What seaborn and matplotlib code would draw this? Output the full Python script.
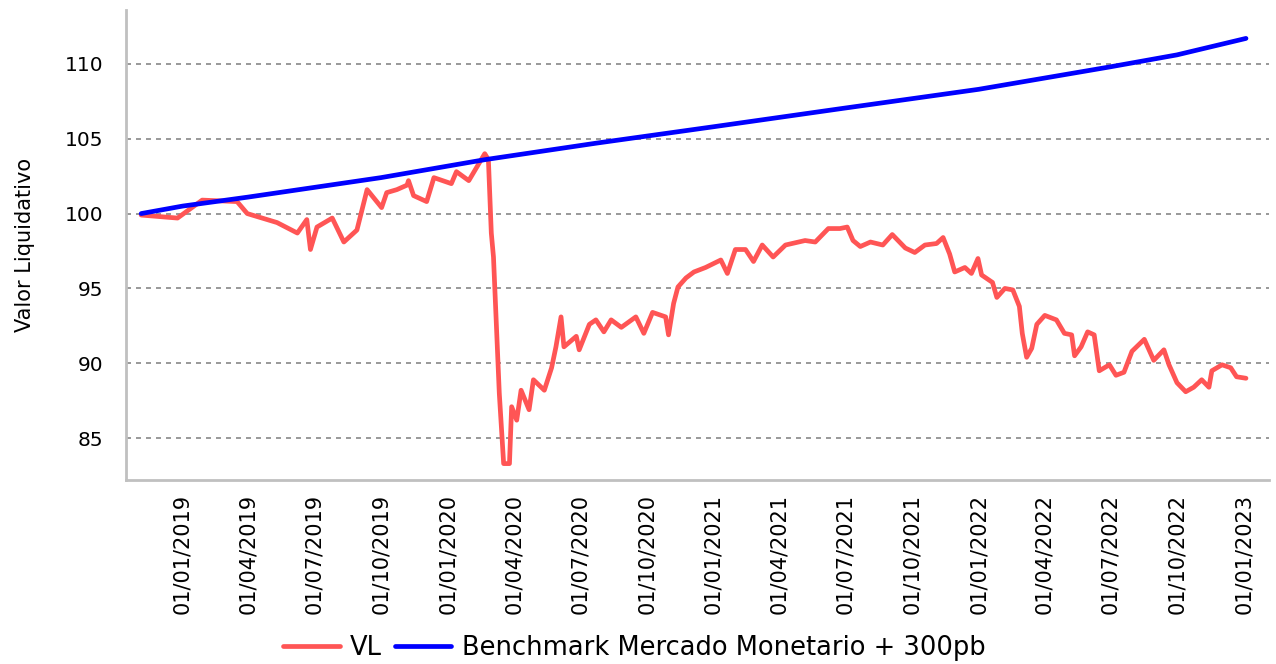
import pandas as pd
import matplotlib.pyplot as plt
import matplotlib.dates as mdates
import seaborn as sns

# VL series
vl_dates = ['2018-11-05', '2018-12-25', '2019-01-28', '2019-03-17', '2019-03-31', '2019-05-11',
            '2019-06-08', '2019-06-21', '2019-06-26', '2019-07-05', '2019-07-26', '2019-08-11',
            '2019-08-29', '2019-09-12', '2019-10-02', '2019-10-09', '2019-10-23', '2019-11-06',
            '2019-11-08', '2019-11-15', '2019-12-03', '2019-12-13', '2020-01-06', '2020-01-13',
            '2020-01-30', '2020-02-10', '2020-02-21', '2020-02-26', '2020-03-01', '2020-03-04',
            '2020-03-12', '2020-03-18', '2020-03-26', '2020-03-29', '2020-04-05', '2020-04-11',
            '2020-04-22', '2020-04-28', '2020-05-13', '2020-05-23', '2020-05-29', '2020-06-05',
            '2020-06-09', '2020-06-26', '2020-06-30', '2020-07-14', '2020-07-23', '2020-08-03',
            '2020-08-13', '2020-08-27', '2020-09-16', '2020-09-27', '2020-10-09', '2020-10-27',
            '2020-10-31', '2020-11-07', '2020-11-13', '2020-11-24', '2020-12-05', '2020-12-21',
            '2021-01-11', '2021-01-20', '2021-01-31', '2021-02-14', '2021-02-25', '2021-03-09',
            '2021-03-24', '2021-04-10', '2021-05-07', '2021-05-21', '2021-06-08', '2021-06-24',
            '2021-07-04', '2021-07-12', '2021-07-22', '2021-08-05', '2021-08-22', '2021-09-04',
            '2021-09-22', '2021-10-05', '2021-10-19', '2021-11-04', '2021-11-13', '2021-11-22',
            '2021-11-29', '2021-12-13', '2021-12-22', '2021-12-31', '2022-01-05', '2022-01-20',
            '2022-01-26', '2022-02-06', '2022-02-17', '2022-02-26', '2022-03-02', '2022-03-08',
            '2022-03-15', '2022-03-22', '2022-04-02', '2022-04-18', '2022-04-29', '2022-05-09',
            '2022-05-13', '2022-05-22', '2022-05-31', '2022-06-09', '2022-06-16', '2022-06-30',
            '2022-07-09', '2022-07-20', '2022-07-31', '2022-08-17', '2022-08-30', '2022-09-13',
            '2022-09-20', '2022-10-01', '2022-10-13', '2022-10-24', '2022-11-04', '2022-11-14',
            '2022-11-18', '2022-12-02', '2022-12-14', '2022-12-22', '2023-01-04']
vl_values = [99.9, 99.7, 100.9, 100.8, 100.0, 99.4,
             98.7, 99.6, 97.6, 99.1, 99.7, 98.1,
             98.9, 101.6, 100.4, 101.4, 101.6, 101.9,
             102.2, 101.2, 100.8, 102.4, 102.0, 102.8,
             102.2, 103.1, 104.0, 103.6, 98.7, 97.1,
             88.0, 83.3, 83.3, 87.1, 86.2, 88.2,
             86.9, 88.9, 88.2, 89.7, 91.1, 93.1,
             91.1, 91.8, 90.9, 92.6, 92.9, 92.1,
             92.9, 92.4, 93.1, 92.0, 93.4, 93.1,
             91.9, 94.0, 95.1, 95.7, 96.1, 96.4,
             96.9, 96.0, 97.6, 97.6, 96.8, 97.9,
             97.1, 97.9, 98.2, 98.1, 99.0, 99.0,
             99.1, 98.2, 97.8, 98.1, 97.9, 98.6,
             97.7, 97.4, 97.9, 98.0, 98.4, 97.3,
             96.1, 96.4, 96.0, 97.0, 95.9, 95.4,
             94.4, 95.0, 94.9, 93.8, 92.0, 90.4,
             91.0, 92.6, 93.2, 92.9, 92.0, 91.9,
             90.5, 91.1, 92.1, 91.9, 89.5, 89.9,
             89.2, 89.4, 90.8, 91.6, 90.2, 90.9,
             89.9, 88.7, 88.1, 88.4, 88.9, 88.4,
             89.5, 89.9, 89.7, 89.1, 89.0]

# benchmark series
bm_dates = ['2018-11-05', '2019-01-01', '2019-04-01', '2019-10-01', '2020-02-21', '2020-07-23',
            '2021-01-01', '2021-06-24', '2022-01-01', '2022-07-01', '2022-10-01', '2023-01-04']
bm_values = [100.0, 100.5, 101.1, 102.4, 103.6, 104.7,
             105.8, 107.0, 108.3, 109.8, 110.6, 111.7]

y_ticks = [85, 90, 95, 100, 105, 110]
x_ticks = ['2019-01-01', '2019-04-01', '2019-07-01', '2019-10-01', '2020-01-01', '2020-04-01',
           '2020-07-01', '2020-10-01', '2021-01-01', '2021-04-01', '2021-07-01', '2021-10-01',
           '2022-01-01', '2022-04-01', '2022-07-01', '2022-10-01', '2023-01-01']

vl = pd.DataFrame({'date': pd.to_datetime(vl_dates), 'value': vl_values})
bm = pd.DataFrame({'date': pd.to_datetime(bm_dates), 'value': bm_values})

sns.set_style('white')
plt.rcParams['font.family'] = ['DejaVu Sans']
plt.rcParams['text.color'] = 'black'
plt.rcParams['axes.labelcolor'] = 'black'
plt.rcParams['xtick.labelcolor'] = 'black'
plt.rcParams['ytick.labelcolor'] = 'black'

fig = plt.figure(figsize=(12.76, 6.64), dpi=100)
ax = fig.add_axes([0.0987, 0.277, 0.896, 0.708])

sns.lineplot(data=vl, x='date', y='value', ax=ax, color='#FF5555', linewidth=3.4, label='VL')
sns.lineplot(data=bm, x='date', y='value', ax=ax, color='#0000FF', linewidth=3.4,
             label='Benchmark Mercado Monetario + 300pb')

ax.set_ylim(82.2, 113.6)
ax.set_xlim(pd.Timestamp('2018-10-15'), pd.Timestamp('2023-02-05'))
ax.set_yticks(y_ticks)
ax.set_xticks(pd.to_datetime(x_ticks))
ax.xaxis.set_major_formatter(mdates.DateFormatter('%d/%m/%Y'))
ax.tick_params(axis='x', rotation=90, labelsize=15, length=5, width=1.5, color='#C0C0C0', pad=5)
ax.tick_params(axis='y', labelsize=14.5, length=8, width=1.5, color='#C0C0C0', pad=8)
ax.yaxis.grid(True, linestyle=(0, (3, 3)), color='#888888', linewidth=1.2)
ax.set_axisbelow(True)

for s in ['top', 'right']:
    ax.spines[s].set_visible(False)
for s in ['left', 'bottom']:
    ax.spines[s].set_color('#C0C0C0')
    ax.spines[s].set_linewidth(2)

ax.set_xlabel('')
ax.set_ylabel('Valor Liquidativo', fontsize=15, labelpad=22)

ax.legend_.remove()
handles, labels = ax.get_legend_handles_labels()
fig.legend(handles, labels, loc='center', bbox_to_anchor=(0.497, 0.024), ncol=2,
           frameon=False, fontsize=18.5, handlelength=2.2, columnspacing=0.5, handletextpad=0.4)

fig.savefig('out.png', dpi=100)
